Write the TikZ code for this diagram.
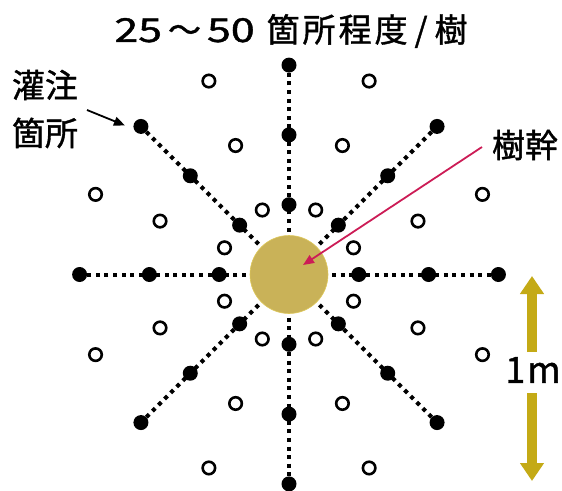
\documentclass[tikz,border=0pt]{standalone}
\usepackage{graphicx}
\usepackage{fontspec}
\newfontfamily\jp{Noto Sans CJK JP}[FakeBold=1.2]
\usetikzlibrary{arrows.meta,calc,backgrounds}
\definecolor{trunkc}{RGB}{201,178,88}
\definecolor{trunkedge}{RGB}{222,200,90}
\definecolor{goldc}{RGB}{196,170,22}
\definecolor{redc}{RGB}{204,28,86}
\begin{document}
\begin{tikzpicture}[x=1pt,y=-1pt,
  blackdot/.style={circle,fill=black,inner sep=0pt,minimum size=15pt},
  opendot/.style={circle,draw=black,line width=2.6pt,fill=white,inner sep=0pt,minimum size=12.5pt},
  spoke/.style={line width=4pt,dash pattern=on 4pt off 4.6pt},
  lbl/.style={font=\jp\fontsize{33}{48}\selectfont,inner sep=0pt,align=center},
  goldarrow/.style={goldc,line width=10pt,-{Triangle[length=18pt,width=23pt]}},
  pointer/.style={line width=1.8pt,-{Triangle[length=11pt,width=9pt]}}]
\useasboundingbox (0,0) rectangle (562,490);
\coordinate (C) at (289,274.5);
% trunk
\node[circle,fill=trunkc,draw=trunkedge,line width=0.6pt,minimum size=78pt,inner sep=0pt] (trunk) at (C) {};
% black dots
\foreach \a in {0,45,...,315} {
  \foreach \k in {1,2,3} {
    \node[blackdot] (d-\a-\k) at ($(C)+(\a:\k*69.8)$) {};
  }
}
% open dots
\foreach \a [count=\i] in {22.5,67.5,112.5,157.5,202.5,247.5,292.5,337.5} {
  \foreach \k in {1,2,3} {
    \node[opendot] (o-\i-\k) at ($(C)+(\a:\k*69.8)$) {};
  }
}
% spokes
\begin{scope}[on background layer]
\foreach \a in {0,45,...,315} {
  \draw[spoke] (trunk.center) -- (d-\a-3.center);
}
\end{scope}
% title
\node[font=\jp\fontsize{33}{38}\selectfont,inner sep=0pt] (title) at (291,31)
  {\scalebox{1.3}[1]{25}\kern6pt～\kern6pt\scalebox{1.3}[1]{50}\kern12pt 箇\kern3pt 所\kern3pt 程\kern3pt 度\kern7pt/\kern7pt 樹};
% left label
\node[lbl] (inj) at (45,109) {灌注\\箇所};
\coordinate (injA) at (87,110);
\coordinate (injB) at ($(d-225-3.center)+(-16,-1)$);
\draw[pointer] (injA) -- (injB);
% trunk label
\node[lbl] (trk) at (525,145) {樹幹};
\coordinate (trkA) at (482,147);
\coordinate (trkB) at ($(trunk.center)+(14,-9.5)$);
\draw[pointer,redc] (trkA) -- (trkB);
% 1m scale
\node[font=\jp\fontsize{36}{40}\selectfont,inner sep=0pt] (onem) at (533,370) {1\hspace{2pt}m};
\coordinate (upA) at (532,352);
\coordinate (upB) at (532,276);
\coordinate (dnA) at (532,393);
\coordinate (dnB) at (532,481);
\draw[goldarrow] (upA) -- (upB);
\draw[goldarrow] (dnA) -- (dnB);
\end{tikzpicture}
\end{document}
